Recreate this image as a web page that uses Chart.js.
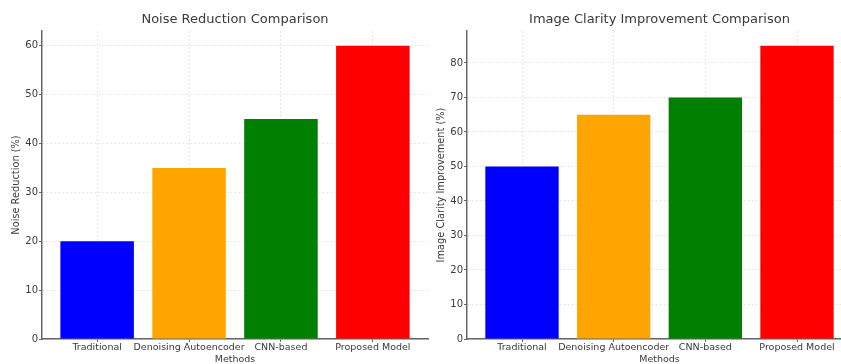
<!DOCTYPE html>
<html>
<head>
<meta charset="utf-8">
<script src="https://cdn.jsdelivr.net/npm/chart.js@4"></script>
<style>
  html, body { margin: 0; padding: 0; background: #fff; overflow: hidden; }
  body { width: 841px; height: 364px; position: relative; }
  .box { position: absolute; top: 0; height: 364px; }
  #left_box { left: 0; width: 430px; }
  #right_box { left: 425px; width: 430px; }
</style>
</head>
<body>
<div class="box" id="left_box"><canvas id="noise_chart"></canvas></div>
<div class="box" id="right_box"><canvas id="clarity_chart"></canvas></div>
<script>
// 데이터
const methods = ['Traditional', 'Denoising Autoencoder', 'CNN-based', 'Proposed Model'];
const noiseValues = [20, 35, 45, 60];
const clarityValues = [50, 65, 70, 85];
const yTicksNoise = [0, 10, 20, 30, 40, 50, 60];
const yTicksClarity = [0, 10, 20, 30, 40, 50, 60, 70, 80];
const barColors = ['#0000ff', '#ffa500', '#008000', '#ff0000'];

const FONT = "'DejaVu Sans', sans-serif";
const textColor = '#3a3a3a';
const gridColor = 'rgba(0,0,0,0.10)';
const axisColor = '#666';

function makeChart(canvasId, title, yTitle, values, yTicks, yMax, padRight) {
  const ctx = document.getElementById(canvasId).getContext('2d');
  return new Chart(ctx, {
    type: 'bar',
    data: {
      datasets: [{
        data: values.map((v, i) => ({ x: i, y: v })),
        backgroundColor: barColors,
        borderWidth: 0,
        barPercentage: 0.8,
        categoryPercentage: 1.0
      }]
    },
    options: {
      responsive: true,
      maintainAspectRatio: false,
      animation: false,
      layout: { padding: { left: 0, right: padRight, top: 0, bottom: 0 } },
      plugins: {
        legend: { display: false },
        tooltip: { enabled: false },
        title: {
          display: true,
          fullSize: false,   // 차트 영역 기준 가운데 정렬
          text: title,
          color: textColor,
          font: { family: FONT, size: 13, weight: 'normal' },
          padding: { top: 12, bottom: 3.4 }
        }
      },
      scales: {
        x: {
          type: 'linear',
          min: -0.6,
          max: 3.6,
          offset: false,
          z: 1,
          afterBuildTicks: s => { s.ticks = methods.map((m, i) => ({ value: i })); },
          afterFit: s => { s.height = 25; },
          ticks: {
            callback: v => methods[v],
            color: textColor,
            font: { family: FONT, size: 9.5 },
            padding: 0,
            maxRotation: 0,
            autoSkip: false
          },
          grid: { offset: false, color: gridColor, tickLength: 3, tickColor: axisColor },
          border: { color: axisColor, width: 1.5, dash: [2, 2] },
          title: {
            display: true,
            text: 'Methods',
            color: textColor,
            font: { family: FONT, size: 9.5, lineHeight: 1 },
            padding: { top: 0, bottom: 0 }
          }
        },
        y: {
          min: 0,
          max: yMax,
          z: 1,
          afterBuildTicks: s => { s.ticks = yTicks.map(v => ({ value: v })); },
          afterFit: s => { s.width = 42; },
          ticks: {
            color: textColor,
            font: { family: FONT, size: 10 },
            padding: 1
          },
          grid: { color: gridColor, tickLength: 3, tickColor: axisColor },
          border: { color: axisColor, width: 1.5, dash: [2, 2] },
          title: {
            display: true,
            text: yTitle,
            color: textColor,
            font: { family: FONT, size: 9.8 },
            padding: { top: 11, bottom: 0 }
          }
        }
      }
    }
  });
}

makeChart('noise_chart', 'Noise Reduction Comparison', 'Noise Reduction (%)', noiseValues, yTicksNoise, 63, 2);
makeChart('clarity_chart', 'Image Clarity Improvement Comparison', 'Image Clarity Improvement (%)', clarityValues, yTicksClarity, 89.25, 3);
</script>
</body>
</html>
